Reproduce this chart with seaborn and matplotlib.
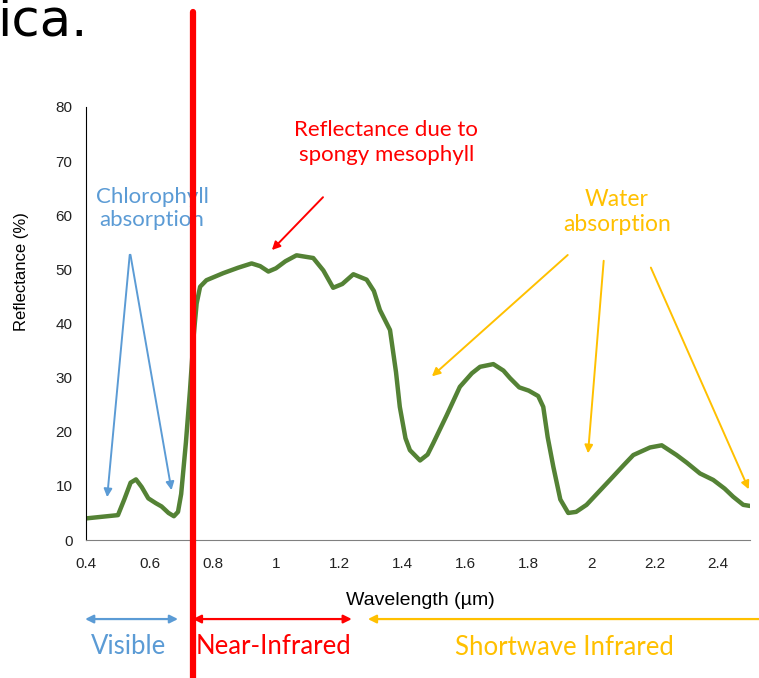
import matplotlib
matplotlib.use('Agg')
import matplotlib.pyplot as plt
import seaborn as sns
import pandas as pd

# Vegetation reflectance spectrum
wavelength = [0.40, 0.45, 0.50, 0.52, 0.54, 0.557, 0.575, 0.596, 0.62, 0.638, 0.66, 0.677,
              0.69, 0.70, 0.715, 0.728, 0.74, 0.749, 0.76, 0.78, 0.833, 0.88, 0.923, 0.95,
              0.976, 1.00, 1.03, 1.065, 1.118, 1.15, 1.181, 1.21, 1.245, 1.287, 1.31, 1.329,
              1.361, 1.38, 1.392, 1.41, 1.424, 1.456, 1.48, 1.498, 1.54, 1.582, 1.62, 1.646,
              1.688, 1.72, 1.741, 1.77, 1.80, 1.83, 1.846, 1.86, 1.878, 1.90, 1.925, 1.95,
              1.983, 2.02, 2.057, 2.10, 2.131, 2.184, 2.221, 2.268, 2.30, 2.342, 2.384, 2.42,
              2.447, 2.479, 2.50]
reflectance = [4.0, 4.3, 4.6, 7.5, 10.6, 11.2, 9.8, 7.7, 6.8, 6.2, 5.0, 4.4,
               5.2, 8.5, 18.0, 27.7, 38.0, 43.7, 46.8, 48.0, 49.3, 50.3, 51.1, 50.6,
               49.6, 50.2, 51.5, 52.6, 52.1, 49.8, 46.6, 47.3, 49.1, 48.1, 46.0, 42.5,
               38.8, 31.0, 24.6, 18.8, 16.6, 14.7, 15.8, 17.9, 23.0, 28.3, 30.8, 32.0,
               32.5, 31.3, 29.9, 28.2, 27.6, 26.6, 24.6, 19.0, 13.5, 7.5, 5.0, 5.2,
               6.5, 8.8, 11.1, 13.8, 15.7, 17.1, 17.5, 15.7, 14.3, 12.3, 11.1, 9.5,
               8.0, 6.5, 6.3]

x_ticks = [0.4, 0.6, 0.8, 1.0, 1.2, 1.4, 1.6, 1.8, 2.0, 2.2, 2.4]
x_tick_labels = ['0.4', '0.6', '0.8', '1', '1.2', '1.4', '1.6', '1.8', '2', '2.2', '2.4']
y_ticks = [0, 10, 20, 30, 40, 50, 60, 70, 80]

red_edge = 0.736

blue = '#5B9BD5'
red = '#FF0000'
orange = '#FFC000'
green = '#548235'

sns.set_style('white')
plt.rcParams['font.family'] = ['Liberation Sans', 'DejaVu Sans']

df = pd.DataFrame({'wavelength': wavelength, 'reflectance': reflectance})

fig = plt.figure(figsize=(7.59, 6.78), dpi=100)
ax = fig.add_axes([0.1138, 0.2035, 0.8742, 0.6387])

sns.lineplot(data=df, x='wavelength', y='reflectance', color=green, linewidth=3.2, ax=ax)

ax.set_xlim(0.4, 2.5)
ax.set_ylim(0, 80)
ax.set_xticks(x_ticks)
ax.set_xticklabels(x_tick_labels)
ax.set_yticks(y_ticks)
ax.tick_params(axis='x', length=4, width=1, color='#808080', pad=8, labelsize=11, labelcolor='#222222')
ax.tick_params(axis='y', length=0, pad=10, labelsize=11, labelcolor='#222222')
for side in ['top', 'right']:
    ax.spines[side].set_visible(False)
ax.spines['left'].set_color('black')
ax.spines['bottom'].set_color('#808080')

ax.set_xlabel('Wavelength (µm)', fontsize=14, color='black')
ax.set_ylabel('Reflectance (%)', fontsize=12, color='black')
ax.xaxis.set_label_coords(0.503, -0.12)
ax.yaxis.set_label_coords(-0.086, 0.62)

# red edge line, running past the axes
ax.axvline(red_edge, ymin=-0.32, ymax=1.22, color=red, linewidth=4.5, clip_on=False, zorder=5)

note_font = ['Lato', 'DejaVu Sans']
arrow = dict(arrowstyle='-|>', lw=1.4, mutation_scale=12)

# chlorophyll absorption
ax.text(0.608, 61.3, 'Chlorophyll\nabsorption', color=blue, fontsize=16, family=note_font,
        ha='center', va='center', linespacing=1.2)
for head in [(0.465, 7.4), (0.671, 8.7)]:
    ax.annotate('', xy=head, xytext=(0.538, 53.2), arrowprops=dict(arrow, color=blue))

# spongy mesophyll
ax.text(1.349, 73.4, 'Reflectance due to\nspongy mesophyll', color=red, fontsize=16,
        family=note_font, ha='center', va='center', linespacing=1.3)
ax.annotate('', xy=(0.981, 53.2), xytext=(1.155, 63.7), arrowprops=dict(arrow, color=red))

# water absorption
ax.text(2.079, 60.6, 'Water\nabsorption', color=orange, fontsize=16.5, family=note_font,
        ha='center', va='center', linespacing=1.2)
for tail, head in [((1.930, 53.0), (1.487, 29.9)),
                   ((2.038, 52.1), (1.987, 15.5)),
                   ((2.183, 50.8), (2.500, 8.9))]:
    ax.annotate('', xy=head, xytext=tail, annotation_clip=False,
                arrowprops=dict(arrow, color=orange))

# spectral regions below the axis
band_y = -14.6
label_y = -19.6
band = dict(lw=1.6, mutation_scale=12, shrinkA=0, shrinkB=0)
ax.annotate('', xy=(0.690, band_y), xytext=(0.396, band_y), annotation_clip=False,
            arrowprops=dict(band, arrowstyle='<|-|>', color=blue))
ax.annotate('', xy=(1.240, band_y), xytext=(0.737, band_y), annotation_clip=False,
            arrowprops=dict(band, arrowstyle='<|-|>', color=red))
ax.annotate('', xy=(1.291, band_y), xytext=(2.53, band_y), annotation_clip=False,
            arrowprops=dict(band, arrowstyle='-|>', color=orange))
ax.text(0.535, label_y, 'Visible', color=blue, fontsize=18.5, family=note_font,
        ha='center', va='center', clip_on=False)
ax.text(0.991, label_y, 'Near-Infrared', color=red, fontsize=18.5, family=note_font,
        ha='center', va='center', clip_on=False)
ax.text(1.914, label_y - 0.3, 'Shortwave Infrared', color=orange, fontsize=18.5, family=note_font,
        ha='center', va='center', clip_on=False)

# leftover text from the slide above the chart
fig.text(-0.004, 1 - 36 / 678, 'ica.', fontsize=37, family=['DejaVu Sans'], color='black',
         va='baseline', ha='left')

fig.savefig('out.png', dpi=100)
